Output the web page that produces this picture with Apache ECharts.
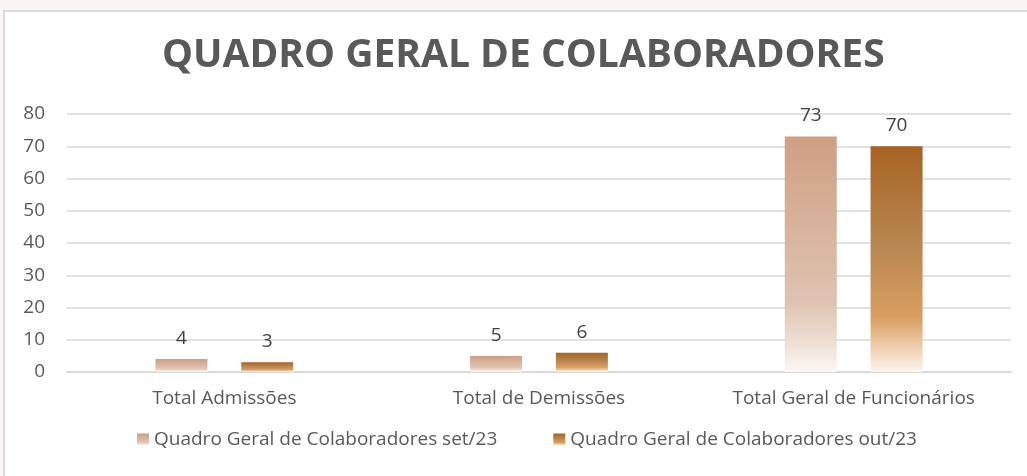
<!DOCTYPE html>
<html>
<head>
<meta charset="utf-8">
<script src="https://cdn.jsdelivr.net/npm/echarts@6/dist/echarts.min.js"></script>
<style>
  html, body { margin: 0; padding: 0; background: #f9f6f3; overflow: hidden; }
  #frame { position: absolute; left: 3px; top: 10px; width: 1030px; height: 470px;
           border: 2px solid #dadada; background: #fff; }
  #chart { width: 1023px; height: 464px; }
</style>
</head>
<body>
<div id="frame"><div id="chart"></div></div>
<script>
// dados do gráfico
const categorias = ["Total Admissões", "Total de Demissões", "Total Geral de Funcionários"];
const nomesSeries = ["Quadro Geral de Colaboradores set/23", "Quadro Geral de Colaboradores out/23"];
const valoresSet = [4, 5, 73];
const valoresOut = [3, 6, 70];

const gradSet = new echarts.graphic.LinearGradient(0, 0, 0, 1, [
  { offset: 0, color: "#cf9f83" },
  { offset: 0.7, color: "#dfc3b1" },
  { offset: 0.86, color: "#eddcd1" },
  { offset: 1, color: "#fcf8f5" }
]);
const gradOut = new echarts.graphic.LinearGradient(0, 0, 0, 1, [
  { offset: 0, color: "#a76323" },
  { offset: 0.45, color: "#b98852" },
  { offset: 0.76, color: "#d99f61" },
  { offset: 0.88, color: "#edcaa8" },
  { offset: 1, color: "#fcf6ef" }
]);

const myChart = echarts.init(document.getElementById("chart"));
const rotulo = { show: true, position: "top", distance: 11, color: "#404040", fontSize: 19, fontFamily: "Open Sans" };
const option = {
  animation: false,
  title: {
    text: "QUADRO GERAL DE COLABORADORES",
    left: 152,
    top: 19,
    textStyle: { fontFamily: "Open Sans", fontWeight: "bold", fontSize: 39, color: "#595959" }
  },
  legend: {
    bottom: 22,
    left: 127,
    itemWidth: 12,
    itemHeight: 12,
    itemGap: 56,
    icon: "rect",
    textStyle: { fontFamily: "Open Sans", fontSize: 19, color: "#595959" },
    data: nomesSeries
  },
  grid: { left: 62, right: 17, top: 102, bottom: 104 },
  xAxis: {
    type: "category",
    data: categorias,
    axisTick: { show: false },
    axisLine: { lineStyle: { color: "#d9d9d9", width: 2 } },
    axisLabel: { interval: 0, fontFamily: "Open Sans", fontSize: 19, color: "#595959", margin: 17 }
  },
  yAxis: {
    type: "value",
    min: 0,
    max: 80,
    interval: 10,
    axisLabel: { fontFamily: "Open Sans", fontSize: 19, color: "#595959", margin: 22 },
    splitLine: { lineStyle: { color: "#d9d9d9", width: 1.5 } }
  },
  series: [
    { name: nomesSeries[0], type: "bar", data: valoresSet, barWidth: 52, barGap: "65%",
      itemStyle: { color: gradSet }, label: rotulo },
    { name: nomesSeries[1], type: "bar", data: valoresOut, barWidth: 52, barGap: "65%",
      itemStyle: { color: gradOut }, label: rotulo }
  ]
};
option && myChart.setOption(option);
</script>
</body>
</html>
